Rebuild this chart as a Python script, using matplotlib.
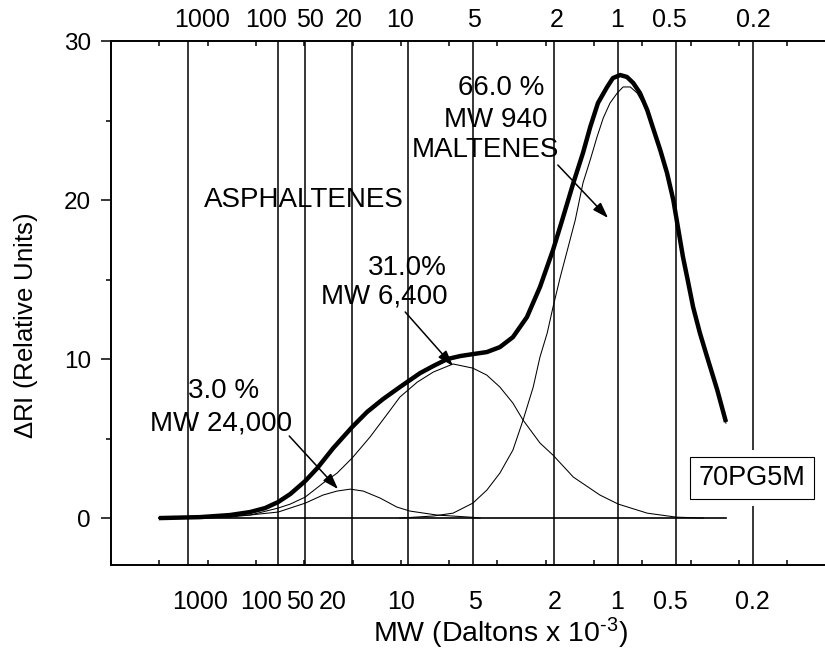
import numpy as np
import matplotlib
matplotlib.use('Agg')
import matplotlib.pyplot as plt
import matplotlib.transforms as mtransforms

# MW calibration lines (x = elution position, one unit per tick)
mw_labels = ['1000', '100', '50', '20', '10', '5', '2', '1', '0.5', '0.2']
mw_line_pos = [1.59, 3.46, 4.02, 4.99, 6.15, 7.50, 9.17, 10.50, 11.70, 13.29]
mw_top_label_pos = [1.88, 3.21, 4.12, 4.93, 5.98, 7.52, 9.23, 10.48, 11.55, 13.29]
mw_bottom_label_pos = [1.84, 3.11, 3.91, 4.58, 6.00, 7.54, 9.19, 10.48, 11.57, 13.27]

# total GPC trace (thick line)
total_x = [0.99, 1.84, 2.46, 2.88, 3.19, 3.46, 3.71, 4.02, 4.27, 4.60, 4.99, 5.30,
           5.63, 5.98, 6.40, 6.67, 6.96, 7.23, 7.49, 7.78, 8.05, 8.32, 8.61, 8.88,
           9.15, 9.34, 9.57, 9.77, 9.92, 10.08, 10.27, 10.39, 10.54, 10.68, 10.81,
           10.95, 11.10, 11.22, 11.37, 11.51, 11.64, 11.84, 11.93, 12.05, 12.19,
           12.34, 12.55, 12.73]
total_y = [0.0, 0.06, 0.19, 0.38, 0.63, 1.01, 1.51, 2.33, 3.14, 4.40, 5.72, 6.67,
           7.48, 8.24, 9.12, 9.56, 10.0, 10.19, 10.31, 10.44, 10.75, 11.38, 12.64, 14.53,
           16.86, 18.74, 21.07, 22.96, 24.59, 26.10, 27.11, 27.67, 27.86, 27.74, 27.36,
           26.73, 25.66, 24.53, 23.14, 21.70, 20.0, 16.42, 15.09, 13.27, 11.64,
           10.13, 8.05, 6.04]

# deconvoluted peaks (thin lines)
peak1_x = [0.99, 2.46, 3.46, 4.02, 4.39, 4.68, 4.95, 5.22, 5.57, 5.92, 6.19, 6.75, 7.43, 7.64]
peak1_y = [0.0, 0.06, 0.38, 0.94, 1.45, 1.70, 1.82, 1.70, 1.26, 0.69, 0.44, 0.19, 0.06, 0.0]

peak2_x = [0.99, 2.88, 3.46, 3.71, 4.02, 4.39, 4.68, 4.99, 5.36, 5.78, 5.98, 6.34, 6.67,
           7.08, 7.49, 7.78, 8.05, 8.32, 8.53, 8.88, 9.15, 9.57, 10.12, 10.50, 11.10,
           11.70, 12.26]
peak2_y = [0.0, 0.19, 0.63, 0.88, 1.32, 2.20, 2.83, 3.77, 5.09, 6.79, 7.61, 8.55, 9.18,
           9.69, 9.43, 8.99, 8.24, 7.23, 6.16, 4.72, 3.96, 2.58, 1.45, 0.88, 0.31,
           0.06, 0.0]

peak3_x = [5.98, 6.67, 7.08, 7.49, 7.78, 8.05, 8.32, 8.53, 8.74, 8.88, 9.03, 9.15, 9.30,
           9.42, 9.61, 9.77, 9.92, 10.06, 10.19, 10.33, 10.48, 10.60, 10.75, 10.89,
           11.01, 11.16, 11.37, 11.51, 11.64, 11.84, 12.05, 12.34, 12.55, 12.73]
peak3_y = [0.0, 0.13, 0.31, 0.94, 1.76, 2.83, 4.28, 6.16, 8.24, 10.13, 11.64, 13.27, 15.16,
           16.54, 18.74, 21.07, 22.52, 23.96, 25.16, 26.10, 26.73, 27.11, 27.11, 26.73,
           26.10, 25.03, 23.02, 21.57, 19.87, 16.35, 13.21, 10.06, 7.99, 5.97]

plt.rcParams['font.family'] = ['Liberation Sans', 'DejaVu Sans']
plt.rcParams['mathtext.fontset'] = 'custom'
plt.rcParams['mathtext.rm'] = 'Liberation Sans'
plt.rcParams['mathtext.it'] = 'Liberation Sans:italic'

fig = plt.figure(figsize=(8.25, 6.55), dpi=100)
ax = fig.add_axes([111 / 825, 90 / 655, 714 / 825, 524 / 655])
ax.set_xlim(0, 14.78)
ax.set_ylim(-2.95, 30)

# vertical MW lines
for xp in mw_line_pos:
    ax.axvline(xp, color='black', lw=1.1, zorder=1)

# baseline
ax.plot([total_x[0], total_x[-1]], [0, 0], color='black', lw=1.2, zorder=2)

# peaks + total
for px, py in [(peak1_x, peak1_y), (peak2_x, peak2_y), (peak3_x, peak3_y)]:
    ax.plot(px, py, color='black', lw=0.75, solid_joinstyle='round', zorder=2)
ax.plot(total_x, total_y, color='black', lw=3.2, solid_capstyle='butt',
        solid_joinstyle='round', zorder=3)

# MW labels top and bottom
trans = mtransforms.blended_transform_factory(ax.transData, ax.transAxes)
for lab, xt, xb in zip(mw_labels, mw_top_label_pos, mw_bottom_label_pos):
    ax.text(xt, 1.027, lab, transform=trans, ha='center', va='baseline', fontsize=18)
    ax.text(xb, -0.084, lab, transform=trans, ha='center', va='baseline', fontsize=18)

# annotations
fs = 20
ax.text(4.0, 19.56, 'ASPHALTENES', ha='center', va='baseline', fontsize=fs)
ax.text(6.96, 15.28, '31.0%', ha='right', va='baseline', fontsize=fs)
ax.text(6.96, 13.52, 'MW 6,400', ha='right', va='baseline', fontsize=fs)
ax.text(2.32, 7.55, '3.0 %', ha='center', va='baseline', fontsize=fs)
ax.text(2.28, 5.53, 'MW 24,000', ha='center', va='baseline', fontsize=fs)
ax.text(8.07, 26.6, '66.0 %', ha='center', va='baseline', fontsize=fs)
ax.text(7.97, 24.59, 'MW 940', ha='center', va='baseline', fontsize=fs)
ax.text(7.76, 22.70, 'MALTENES', ha='center', va='baseline', fontsize=fs)

arrow = dict(arrowstyle='-|>,head_length=0.6,head_width=0.2', color='black',
             lw=1.1, shrinkA=0, shrinkB=0, mutation_scale=16)
ax.annotate('', xy=(10.29, 18.87), xytext=(9.25, 22.2), arrowprops=arrow, zorder=4)
ax.annotate('', xy=(7.08, 9.56), xytext=(6.09, 12.96), arrowprops=arrow, zorder=4)
ax.annotate('', xy=(4.70, 1.82), xytext=(3.69, 5.16), arrowprops=arrow, zorder=4)

# sample id box (white gap behind so the 0.2 line breaks)
ax.text(13.27, 2.52, '70PG5M', ha='center', va='center', fontsize=19.5, color='none',
        bbox=dict(boxstyle='square,pad=0.55', fc='white', ec='none'), zorder=5)
ax.text(13.27, 2.52, '70PG5M', ha='center', va='center', fontsize=19.5,
        bbox=dict(boxstyle='square,pad=0.3', fc='white', ec='black', lw=0.8), zorder=6)

# axes styling
ax.set_yticks([0, 10, 20, 30])
ax.set_yticks([5, 15, 25], minor=True)
ax.set_xticks(np.arange(0, 15))
ax.tick_params(axis='y', which='major', direction='out', length=7, width=1.1,
               labelsize=17.5, pad=7.5)
ax.tick_params(axis='y', which='minor', direction='out', length=3.6, width=1.1)
ax.tick_params(axis='x', which='major', direction='in', length=3.6, width=1.1,
               top=True, bottom=True, labelbottom=False, labeltop=False)
for side in ['left', 'top', 'bottom']:
    ax.spines[side].set_linewidth(1.4)
ax.spines['right'].set_visible(False)

fig.text(26 / 825, 1 - 326 / 655, r'$\Delta$RI (Relative Units)', rotation=90,
         ha='center', va='center', fontsize=18.5)
fig.text(500 / 825, 13 / 655, 'MW (Daltons x 10$^{\u2010 3}$)', ha='center',
         va='baseline', fontsize=20.5)

fig.savefig('out.png', dpi=100)
